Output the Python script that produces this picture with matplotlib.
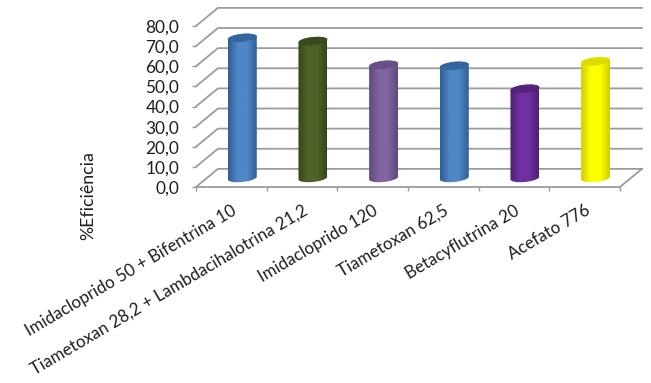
import numpy as np
import matplotlib
matplotlib.use('Agg')
import matplotlib.pyplot as plt
from matplotlib.colors import LinearSegmentedColormap
from matplotlib.patches import Polygon

categories = ['Imidacloprido 50 + Bifentrina 10',
              'Tiametoxan 28,2 + Lambdacihalotrina 21,2',
              'Imidacloprido 120',
              'Tiametoxan 62,5',
              'Betacyflutrina 20',
              'Acefato 776']
values = [69.6, 68.0, 56.2, 55.7, 44.3, 57.9]
yticks = [0, 10, 20, 30, 40, 50, 60, 70, 80]
body_colors = ['#4f86c6', '#4f6228', '#8064a2', '#4f86c6', '#7030a0', '#ffff00']
edge_colors = ['#2f5f96', '#36461a', '#5f4a7c', '#2f5f96', '#4c2070', '#cfcf00']
cap_colors = ['#33669f', '#3a4a1c', '#67508a', '#33669f', '#55257a', '#dcdc00']

plt.rcParams['font.family'] = ['Lato', 'DejaVu Sans']
grid = '#9c9ca0'
ink = '#1e1e1e'

# depth of the 3d box, in data units
depth_x = 0.31
depth_y = 9.0
bar_w = 0.205
cap_h = 2.0
cap_tilt = 0.7

fig = plt.figure(figsize=(6.51, 3.83), dpi=100)
ax = fig.add_axes([196/651, (383-187)/383, 424/651, 161/383])
ax.patch.set_visible(False)

for v in yticks:
    ax.plot([0, depth_x, 6 + depth_x], [v, v + depth_y, v + depth_y],
            color=grid, lw=1.3, clip_on=False, zorder=1)
ax.plot([6, 6 + depth_x], [0, depth_y], color=grid, lw=1.3, clip_on=False, zorder=1)

t = np.linspace(0, 2*np.pi, 121)
for i, v in enumerate(values):
    cx = i + 0.5 + depth_x/2
    base = depth_y/2
    ex = cx + bar_w*np.cos(t)
    ey = cap_h*np.sin(t) + cap_tilt*np.cos(t)
    lower = t[t >= np.pi]
    lx = cx + bar_w*np.cos(lower)
    ly = base + cap_h*np.sin(lower) + cap_tilt*np.cos(lower)
    body = Polygon(np.vstack([np.column_stack([lx, ly]),
                              np.column_stack([ex[:61], base + v + ey[:61]])]),
                   closed=True, transform=ax.transData, fc='none', ec='none')
    ax.add_patch(body)
    cmap = LinearSegmentedColormap.from_list(
        'cyl', [edge_colors[i], body_colors[i], body_colors[i], edge_colors[i]])
    im = ax.imshow(np.linspace(0, 1, 64).reshape(1, -1), cmap=cmap, aspect='auto',
                   extent=[cx - bar_w, cx + bar_w, base - cap_h - 1, base + v + cap_h + 1],
                   zorder=3, interpolation='bilinear')
    im.set_clip_path(body)
    ax.fill(ex, base + v + ey, color=cap_colors[i], lw=0, zorder=4, clip_on=False)

ax.set_xlim(0, 6)
ax.set_ylim(0, 80)
for s in ['top', 'right', 'left']:
    ax.spines[s].set_visible(False)
ax.spines['bottom'].set_color(grid)
ax.spines['bottom'].set_linewidth(1.3)

ax.set_yticks(yticks)
ax.set_yticklabels([('%.1f' % v).replace('.', ',') for v in yticks],
                   fontsize=12.4, color=ink)
ax.tick_params(axis='y', length=3, width=1, color=grid, pad=9)

ax.set_xticks(np.arange(0, 7), minor=True)
ax.set_xticks(np.arange(6) + 0.5)
ax.set_xticklabels(categories, rotation=30.5, ha='right', rotation_mode='anchor',
                   fontsize=12.2, color=ink)
ax.tick_params(axis='x', which='major', length=0, pad=11)
ax.tick_params(axis='x', which='minor', length=3, width=1, color=grid)

ax.set_ylabel('%Eficiência', fontsize=12.8, color=ink)
ax.yaxis.set_label_coords(-0.235, -0.056)

fig.savefig('out.png', dpi=100)
